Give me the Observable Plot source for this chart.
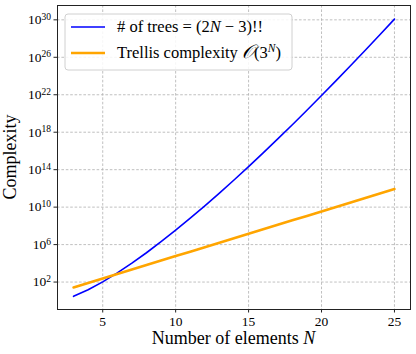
<!DOCTYPE html>
<html><head><meta charset="utf-8">
<script src="https://cdn.jsdelivr.net/npm/d3@7"></script>
<script src="https://cdn.jsdelivr.net/npm/@observablehq/plot@0.6"></script>
<style>body{margin:0;background:#fff} #chart{width:416px;height:354px;position:relative}</style>
</head><body><div id="chart"></div>
<script>
const N = [3,4,5,6,7,8,9,10,11,12,13,14,15,16,17,18,19,20,21,22,23,24,25];
const trees = [3, 15, 105, 945, 10395, 135135, 2027025, 34459425, 654729075, 1.3749e10, 3.1623e11, 7.9059e12, 2.1346e14, 6.1903e15, 1.9190e17, 6.3327e18, 2.2164e20, 8.2008e21, 3.1983e23, 1.3113e25, 5.6386e26, 2.5374e28, 1.1926e30];
const trellis = [27, 81, 243, 729, 2187, 6561, 19683, 59049, 177147, 531441, 1594323, 4782969, 14348907, 43046721, 129140163, 387420489, 1162261467, 3486784401, 10460353203, 31381059609, 94143178827, 282429536481, 847288609443];
const xTicks = [5, 10, 15, 20, 25];
const yExponents = [2, 6, 10, 14, 18, 22, 26, 30];

const yTicks = yExponents.map(e => Math.pow(10, e));
const treeRows = N.map((n, i) => ({N: n, value: trees[i]}));
const trellisRows = N.map((n, i) => ({N: n, value: trellis[i]}));

const W = 416, H = 354, mL = 57, mR = 6, mT = 5, mB = 45;
const gridStyle = {stroke: "#b0b0b0", strokeOpacity: 1, strokeDasharray: "2.6,1.8", strokeWidth: 0.8};
const chart = Plot.plot({
  width: W, height: H, marginLeft: mL, marginRight: mR, marginTop: mT, marginBottom: mB,
  style: {fontFamily: "'Liberation Serif', 'DejaVu Serif', serif", fontSize: "13px", background: "#fff", color: "#000"},
  x: {domain: [1.9, 26.1]},
  y: {type: "log", domain: [Math.pow(10, -0.93), Math.pow(10, 31.53)]},
  marks: [
    Plot.gridX(xTicks, gridStyle),
    Plot.gridY(yTicks, gridStyle),
    Plot.line(treeRows, {x: "N", y: "value", stroke: "#0000ff", strokeWidth: 1.6}),
    Plot.line(trellisRows, {x: "N", y: "value", stroke: "#ffa500", strokeWidth: 2.6}),
    Plot.frame({stroke: "#222", strokeWidth: 1}),
    Plot.axisX(xTicks, {tickSize: 3.5, tickPadding: 3, fontSize: 13.5, label: null, stroke: "#222"}),
    Plot.axisY(yTicks, {tickSize: 3.5, tickPadding: 3, fontSize: 13.5, label: null, stroke: "#222",
      tickFormat: d => "10^" + Math.round(Math.log10(d))})
  ]
});
document.getElementById("chart").appendChild(chart);
const svg = d3.select(chart);
// superscript tick labels
svg.selectAll("text").each(function() {
  const t = this.textContent;
  if (t.startsWith("10^")) {
    const sel = d3.select(this);
    const exp = t.slice(3);
    sel.text("");
    sel.append("tspan").text("10");
    sel.append("tspan").attr("dy", "-0.45em").attr("font-size", "9.5px").text(exp);
  }
});
const font = "'Liberation Serif', 'DejaVu Serif', serif";
// axis labels
svg.append("text").attr("transform", `translate(16,${(mT + H - mB) / 2}) rotate(-90)`)
  .attr("text-anchor", "middle").attr("font-size", 18).attr("font-family", font).text("Complexity");
const xl = svg.append("text").attr("x", (mL + W - mR) / 2).attr("y", 344)
  .attr("text-anchor", "middle").attr("font-size", 18).attr("font-family", font);
xl.append("tspan").text("Number of elements ");
xl.append("tspan").attr("font-style", "italic").text("N");
// legend
const lg = svg.append("g").attr("font-family", font).attr("font-size", 16.5).attr("text-anchor", "start");
lg.append("rect").attr("x", 65).attr("y", 14).attr("width", 227).attr("height", 56).attr("rx", 3)
  .attr("fill", "#fff").attr("fill-opacity", 0.85).attr("stroke", "#d0d0d0");
lg.append("line").attr("x1", 71).attr("x2", 105).attr("y1", 27).attr("y2", 27).attr("stroke", "#0000ff").attr("stroke-width", 1.6);
lg.append("line").attr("x1", 71).attr("x2", 105).attr("y1", 53).attr("y2", 53).attr("stroke", "#ffa500").attr("stroke-width", 2.6);
const t1 = lg.append("text").attr("x", 117).attr("y", 32).attr("text-anchor", "start");
t1.append("tspan").text("# of trees = (2");
t1.append("tspan").attr("font-style", "italic").text("N");
t1.append("tspan").text(" \u2212 3)!!");
const t2 = lg.append("text").attr("x", 117).attr("y", 58).attr("text-anchor", "start");
t2.append("tspan").text("Trellis complexity ");
t2.append("tspan").attr("font-style", "italic").attr("font-size", 19).text("\u{1D4AA}");
t2.append("tspan").text("(3");
t2.append("tspan").attr("font-style", "italic").attr("font-size", 11.5).attr("dy", "-0.5em").text("N");
t2.append("tspan").attr("dy", "0.33em").text(")");
</script></body></html>
